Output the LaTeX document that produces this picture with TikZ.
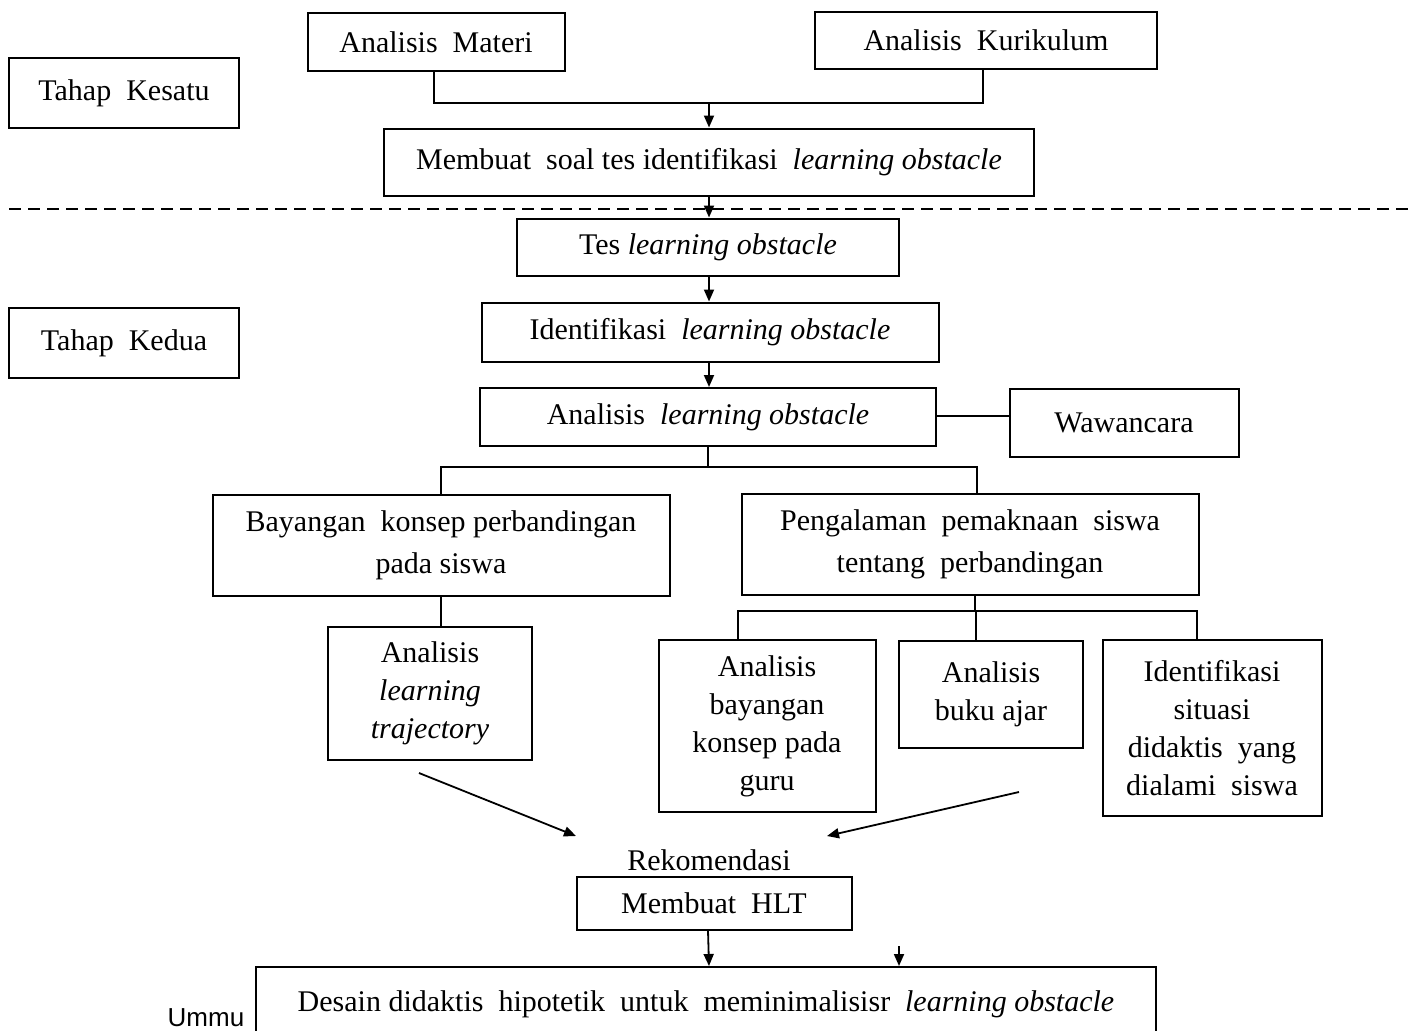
\documentclass[tikz,border=0pt]{standalone}
\usepackage{fontspec}
\setmainfont{Liberation Serif}
\newfontfamily\ummufont{Liberation Sans}
\usetikzlibrary{arrows.meta}

\begin{document}
\begin{tikzpicture}[x=0.5pt,y=-0.5pt]
        \tikzstyle{every node}+=[inner sep=0pt, font=\fontsize{15}{19}\selectfont]
        \tikzstyle{box}=[draw, line width=1pt, align=center]
        \tikzstyle{wide}=[box, font=\fontsize{15}{21}\selectfont]
        \tikzstyle{link}=[line width=0.9pt]
        \tikzstyle{arr}=[link, -{Triangle[length=6pt,width=5pt]}]
        \useasboundingbox (0,0) rectangle (1408,1030);
        \node[box, minimum width=115pt, minimum height=35pt] (kesatu) at (124,93) {Tahap\ \ Kesatu};
        \node[box, minimum width=115pt, minimum height=35pt] (kedua) at (124,343) {Tahap\ \ Kedua};
        \node[box, minimum width=128.5pt, minimum height=29pt] (materi) at (436,42) {Analisis\ \ Materi};
        \node[box, minimum width=171pt, minimum height=28.5pt] (kurikulum) at (986,40) {Analisis\ \ Kurikulum};
        \node[box, minimum width=325pt, minimum height=33.5pt] (soal) at (709,162) {Membuat\ \ soal tes identifikasi\ \ \textit{learning obstacle}};
        \node[box, minimum width=191pt, minimum height=28.5pt] (tes) at (708,247) {Tes \textit{learning obstacle}};
        \node[box, minimum width=228.5pt, minimum height=29.5pt] (identifikasi) at (710,332) {Identifikasi\ \ \textit{learning obstacle}};
        \node[box, minimum width=228pt, minimum height=29pt] (analisis) at (708,417) {Analisis\ \ \textit{learning obstacle}};
        \node[box, minimum width=114.5pt, minimum height=34pt] (wawancara) at (1124,423) {Wawancara};
        \node[wide, minimum width=228.5pt, minimum height=50.5pt] (bayangan) at (441,545) {Bayangan\ \ konsep perbandingan\\pada siswa};
        \node[wide, minimum width=228.5pt, minimum height=50.5pt] (pengalaman) at (970,544) {Pengalaman\ \ pemaknaan\ \ siswa\\tentang\ \ perbandingan};
        \node[box, minimum width=102pt, minimum height=66.5pt] (trajectory) at (430,693) {Analisis\\\textit{learning}\\\textit{trajectory}};
        \node[box, minimum width=108.5pt, minimum height=86pt] (guru) at (767,726) {Analisis\\bayangan\\konsep pada\\guru};
        \node[box, minimum width=92pt, minimum height=53.5pt] (buku) at (991,694) {Analisis\\buku ajar};
        \node[box, minimum width=109.5pt, minimum height=88pt] (situasi) at (1212,728) {Identifikasi\\situasi\\didaktis\ \ yang\\dialami\ \ siswa};
        \node (rekomendasi) at (709,860) {Rekomendasi};
        \node[box, minimum width=137.5pt, minimum height=26.5pt] (hlt) at (714,903) {Membuat\ \ HLT};
        \node[box, anchor=north, minimum width=450pt, text height=10.5pt, text depth=40pt, inner ysep=11.5pt] (desain) at (706,966) {Desain\ didaktis\ \ hipotetik\ \ untuk\ \ meminimalisisr\ \ \textit{learning obstacle}};
        \node[anchor=base, font=\ummufont\fontsize{13}{15}\selectfont] (ummu) at (206,1026) {Ummu};
        \coordinate (join1) at (709,103);
        \coordinate (split1) at (708,467);
        \coordinate (split2) at (975,611);
        \coordinate (from1) at (419,773);
        \coordinate (to1) at (576,836);
        \coordinate (from2) at (1019,792);
        \coordinate (to2) at (827,836);
        \coordinate (drop2) at (899,946);
        \draw[link] ([xshift=-1pt]materi.south) |- (join1) -| ([xshift=-1.5pt]kurikulum.south);
        \draw[arr] (join1) -- (soal.north);
        \draw[arr] (soal.south) -- (soal.south |- tes.north);
        \draw[link, dash pattern=on 6pt off 3.5pt] (9,209) -- (1408,209);
        \draw[arr] ([xshift=0.5pt]tes.south) -- ([xshift=0.5pt]tes.south |- identifikasi.north);
        \draw[arr] ([xshift=-0.5pt]identifikasi.south) -- ([xshift=-0.5pt]identifikasi.south |- analisis.north);
        \draw[link] ([yshift=0.5pt]analisis.east) -- ([yshift=0.5pt]analisis.east -| wawancara.west);
        \draw[link] (analisis.south) -- (split1);
        \draw[link] (bayangan.north) |- (split1) -| ([xshift=3.5pt]pengalaman.north);
        \draw[link] (bayangan.south) -- (bayangan.south |- trajectory.north);
        \draw[link] ([xshift=2.5pt]pengalaman.south) -- (split2);
        \draw[link] ([xshift=-14.5pt]guru.north) |- (split2) -| ([xshift=-7.5pt]situasi.north);
        \draw[link] ([xshift=-7.5pt]buku.north) -- ([xshift=-7.5pt]buku.north |- split2);
        \draw[arr] (from1) -- (to1);
        \draw[arr] (from2) -- (to2);
        \draw[arr] ([xshift=-3pt]hlt.south) -- ([xshift=-2.5pt]hlt.south |- desain.north);
        \draw[arr] (drop2) -- (drop2 |- desain.north);
\end{tikzpicture}
\end{document}
